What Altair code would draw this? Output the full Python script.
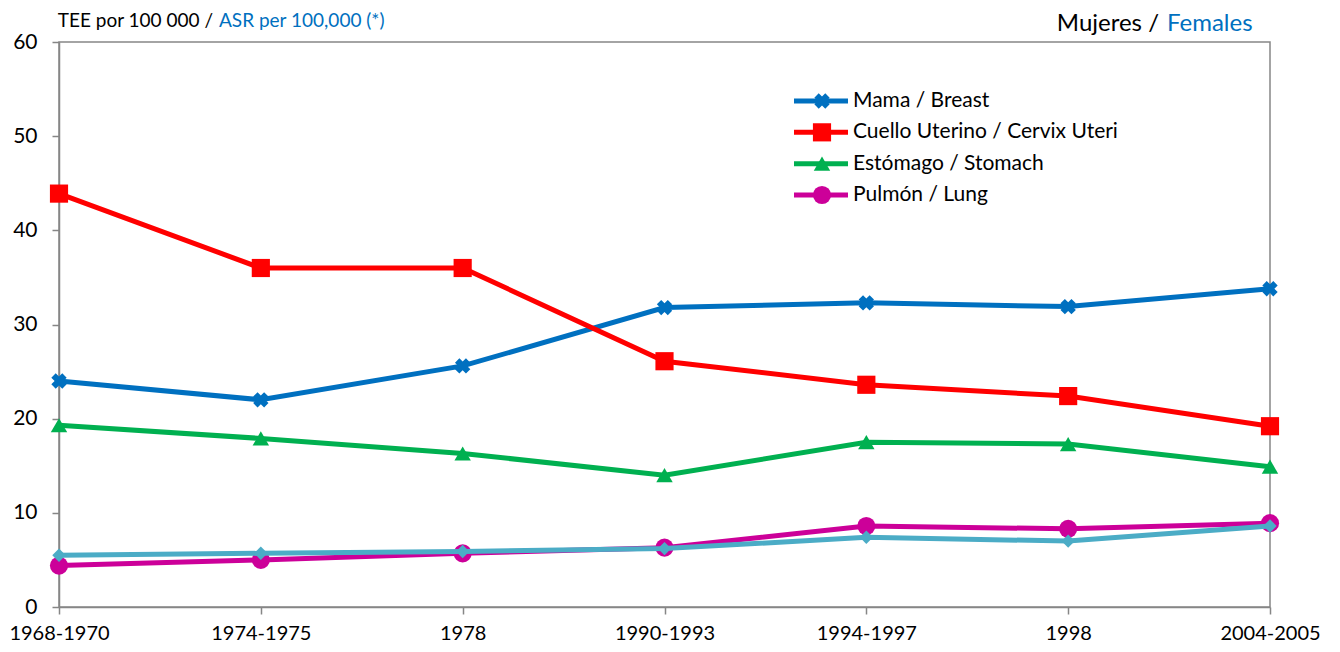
import altair as alt
import pandas as pd

periods = ["1968-1970", "1974-1975", "1978", "1990-1993", "1994-1997", "1998", "2004-2005"]
mama = [24.0, 22.0, 25.6, 31.8, 32.3, 31.9, 33.8]
cervix = [43.9, 36.0, 36.0, 26.1, 23.6, 22.4, 19.2]
stomach = [19.3, 17.9, 16.3, 14.0, 17.5, 17.3, 14.9]
lung = [4.4, 5.0, 5.7, 6.3, 8.6, 8.3, 8.9]
other = [5.5, 5.7, 5.9, 6.2, 7.4, 7.0, 8.6]

names = ["Mama / Breast", "Cuello Uterino / Cervix Uteri", "Estómago / Stomach", "Pulmón / Lung", "Serie 5"]
series_values = [mama, cervix, stomach, lung, other]
legend_names = names[:4]

colors = ["#0070C0", "#FF0000", "#00B050", "#CC0099", "#4BACC6"]
shapes = ["cross", "square", "triangle-up", "circle", "diamond"]
angles = [45, 0, 0, 0, 0]
sizes = [240, 330, 270, 330, 180]

title_left_black = "TEE por 100 000 /"
title_left_blue = "ASR per 100,000 (*)"
title_right_black = "Mujeres /"
title_right_blue = "Females"

rows = []
for n, vals in zip(names, series_values):
    for p, v in zip(periods, vals):
        rows.append({"period": p, "series": n, "value": v})
df = pd.DataFrame(rows)

FONT = "Lato"
GRAY = "#868686"

x_enc = alt.X(
    "period:N",
    sort=periods,
    scale=alt.Scale(type="point", padding=0),
    axis=alt.Axis(
        title=None, labelAngle=0, labelFontSize=20, labelColor="black",
        labelPadding=9, tickSize=7, tickColor=GRAY, tickWidth=1.5,
        domainColor=GRAY, domainWidth=1.5, labelFont=FONT, grid=False,
    ),
)
y_enc = alt.Y(
    "value:Q",
    scale=alt.Scale(domain=[0, 60], nice=False, zero=True),
    axis=alt.Axis(
        title=None, values=[0, 10, 20, 30, 40, 50, 60], labelFontSize=21,
        labelColor="black", labelPadding=15, tickSize=7, tickColor=GRAY,
        tickWidth=1.5, domainColor=GRAY, domainWidth=1.5, labelFont=FONT,
        grid=False,
    ),
)

layers = []
for n, c, s, a, sz in zip(names, colors, shapes, angles, sizes):
    base = alt.Chart(df).transform_filter(alt.datum.series == n)
    layers.append(base.mark_line(color=c, strokeWidth=5).encode(x=x_enc, y=y_enc))
    layers.append(
        base.mark_point(shape=s, angle=a, filled=True, size=sz, color=c, opacity=1).encode(x=x_enc, y=y_enc)
    )
main = alt.layer(*layers)

# Legend (manual, drawn from the series names)
leg_df = pd.DataFrame({"series": legend_names})
leg_y = alt.Y(
    "series:N",
    scale=alt.Scale(type="point", domain=legend_names, range=[59, 153], padding=0),
    axis=None,
)
leg_color = alt.Color("series:N", scale=alt.Scale(domain=names, range=colors), legend=None)
leg_base = alt.Chart(leg_df)
leg_rule = leg_base.mark_rule(strokeWidth=5).encode(
    x=alt.value(735), x2=alt.value(789), y=leg_y, color=leg_color
)
leg_pts = []
for n, s, a, sz in zip(legend_names, shapes, angles, sizes):
    leg_pts.append(
        leg_base.transform_filter(alt.datum.series == n)
        .mark_point(shape=s, angle=a, filled=True, size=sz, opacity=1)
        .encode(x=alt.value(763), y=leg_y, color=leg_color)
    )
leg_txt = leg_base.mark_text(align="left", baseline="middle", fontSize=21, font=FONT, color="black").encode(
    x=alt.value(794), y=leg_y, text="series:N"
)
legend = alt.layer(leg_rule, *leg_pts, leg_txt)

# Titles
tdf = pd.DataFrame({"a": [title_left_black], "b": [title_left_blue], "c": [title_right_black], "d": [title_right_blue]})
tbase = alt.Chart(tdf)
t1 = tbase.mark_text(align="right", baseline="alphabetic", fontSize=19, font=FONT, color="black").encode(
    x=alt.value(154), y=alt.value(-15), text="a:N")
t2 = tbase.mark_text(align="left", baseline="alphabetic", fontSize=19, font=FONT, color="#0070C0").encode(
    x=alt.value(160), y=alt.value(-15), text="b:N")
t3 = tbase.mark_text(align="right", baseline="alphabetic", fontSize=24, font=FONT, color="black").encode(
    x=alt.value(1100), y=alt.value(-11), text="c:N")
t4 = tbase.mark_text(align="left", baseline="alphabetic", fontSize=24, font=FONT, color="#0070C0").encode(
    x=alt.value(1108), y=alt.value(-11), text="d:N")

chart = (
    alt.layer(main, legend, t1, t2, t3, t4)
    .resolve_scale(y="independent")
    .properties(
        width=1211,
        height=565,
        autosize=alt.AutoSizeParams(type="none"),
        padding={"left": 51, "top": 34, "right": 60, "bottom": 37},
        background="white",
    )
    .configure_view(stroke=GRAY, strokeWidth=1.5)
    .configure_text(font=FONT)
)

chart.save("out.html", embed_options={"renderer": "svg", "actions": False})
